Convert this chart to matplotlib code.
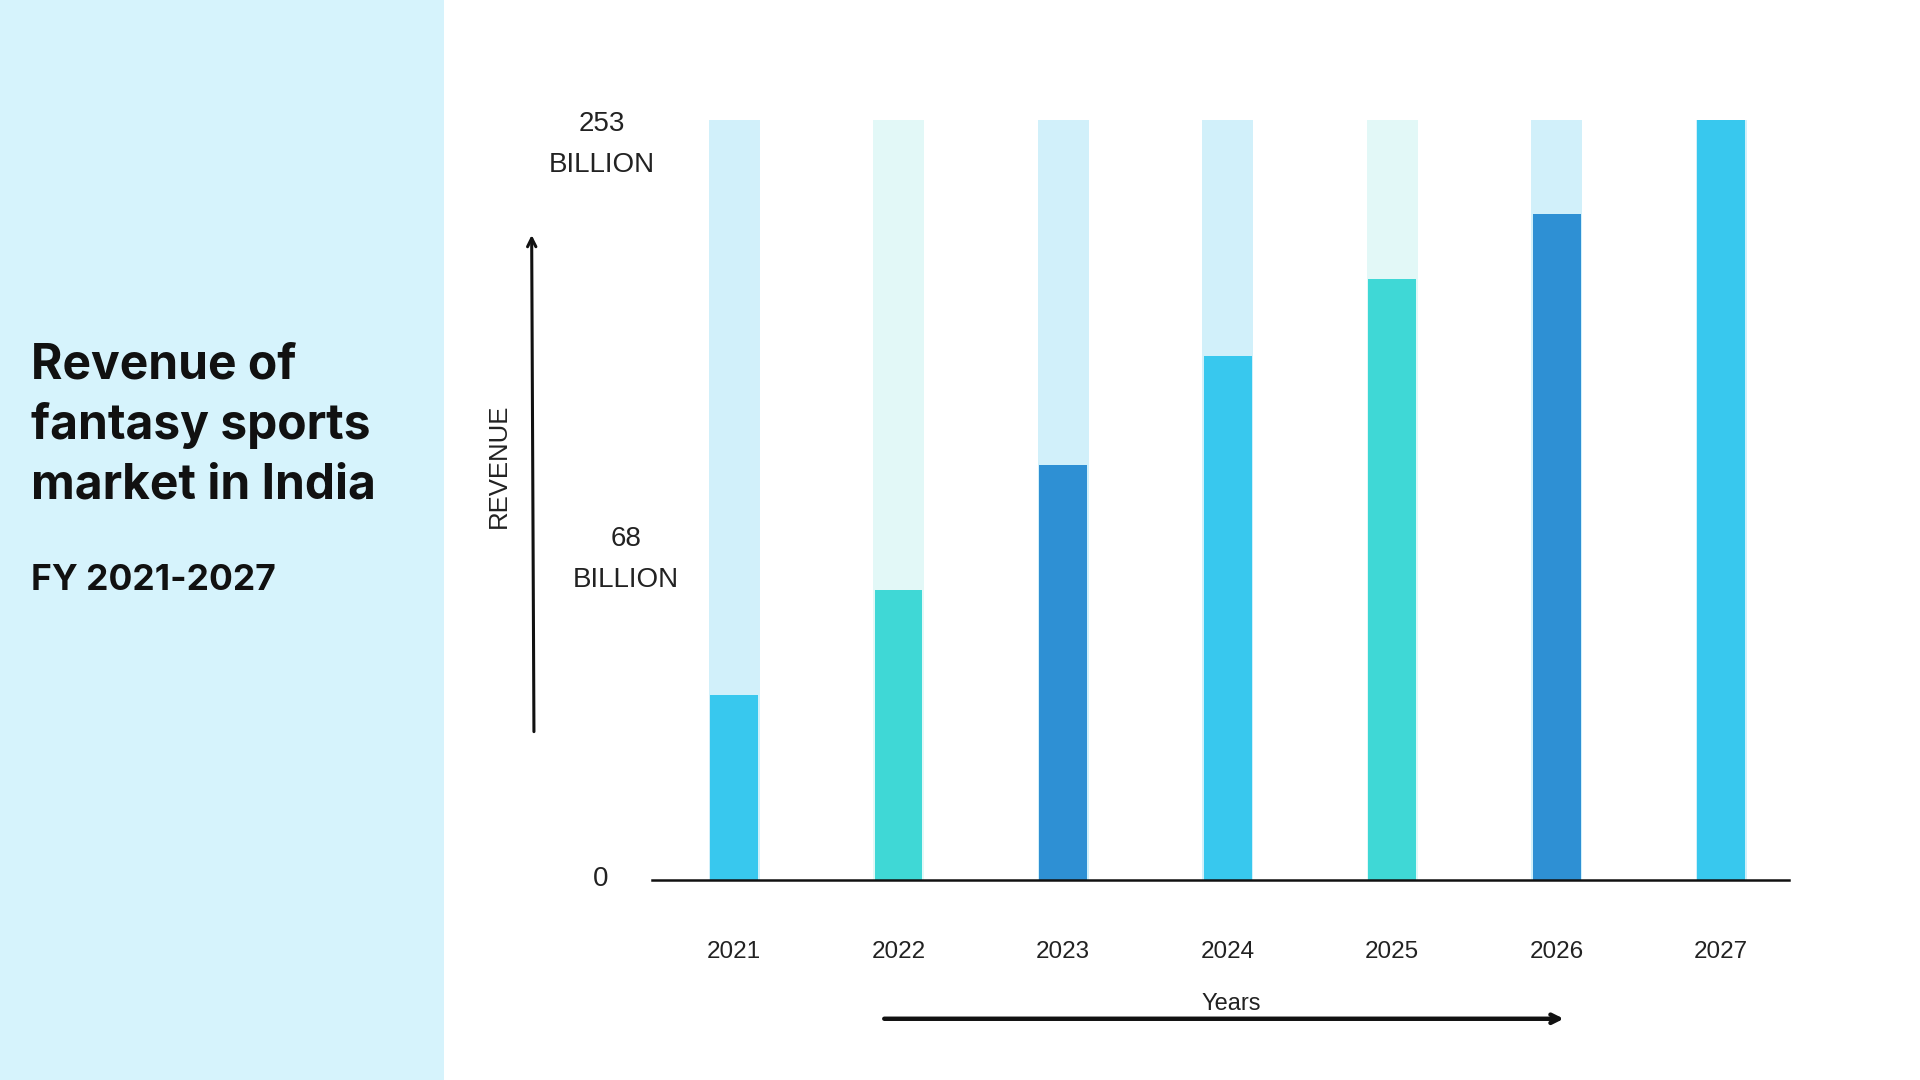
import matplotlib
matplotlib.use("Agg")
import matplotlib.pyplot as plt
from matplotlib.patches import Rectangle, FancyArrowPatch

# Data (billion INR)
years = ["2021", "2022", "2023", "2024", "2025", "2026", "2027"]
revenue = [61.5, 96.6, 138.1, 174.4, 200.0, 221.6, 253.0]
bar_colors = ["#38C8EE", "#3FD8D6", "#2E90D4", "#38C8EE", "#3FD8D6", "#2E90D4", "#38C8EE"]
track_colors = ["#D1F0FA", "#E2F8F7", "#D1F0FA", "#D1F0FA", "#E2F8F7", "#D1F0FA", "#D1F0FA"]

fig = plt.figure(figsize=(19.2, 10.8), dpi=100)
fig.patch.set_facecolor("white")

# left info panel
fig.patches.append(Rectangle((0, 0), 0.2315, 1, transform=fig.transFigure,
                             facecolor="#D6F3FC", edgecolor="none", zorder=0))

fig.text(0.016, 0.606, "Revenue of\nfantasy sports\nmarket in India",
         family="Inter", weight="bold", fontsize=34.5, color="#111111",
         ha="left", va="center", linespacing=1.36)
fig.text(0.016, 0.4626, "FY 2021-2027", family="Inter", weight="bold",
         fontsize=25.5, color="#111111", ha="left", va="center")

# chart
ax = fig.add_axes([0.3395, 0.185, 0.5921, 0.704])
x = range(len(years))
top = max(revenue)
ax.bar(x, [top] * len(years), width=0.31, color=track_colors, zorder=1)
ax.bar(x, revenue, width=0.29, color=bar_colors, zorder=2)

ax.set_xlim(-0.5, 6.41)
ax.set_ylim(0, top)
for s in ["top", "left", "right"]:
    ax.spines[s].set_visible(False)
ax.spines["bottom"].set_linewidth(1.8)
ax.spines["bottom"].set_color("#111111")
ax.spines["bottom"].set_zorder(3)
ax.set_yticks([])
ax.set_xticks(list(x))
ax.set_xticklabels(years, family="Liberation Sans", fontsize=17.5, color="#222222")
ax.tick_params(axis="x", length=0, pad=44)

# value labels on the left of the axis
lab = dict(family="Liberation Sans", fontsize=20, color="#222222",
           ha="center", va="center", linespacing=1.75)
fig.text(0.3133, 0.866, "253\nBILLION", **lab)
fig.text(0.3261, 0.482, "68\nBILLION", **lab)
fig.text(0.3127, 0.186, "0", **lab)

fig.text(0.2596, 0.569, "REVENUE", family="Liberation Sans", fontsize=18.5,
         color="#222222", rotation=90, ha="center", va="center")
fig.text(0.6413, 0.070, "Years", family="Liberation Sans", fontsize=17,
         color="#222222", ha="center", va="center")

# arrows
fig.add_artist(FancyArrowPatch(
    (0.2781, 0.320), (0.2769, 0.785), transform=fig.transFigure,
    arrowstyle="->,head_length=6,head_width=3", lw=2.2, color="#111111"))
fig.add_artist(FancyArrowPatch(
    (0.4591, 0.0567), (0.8159, 0.0567), transform=fig.transFigure,
    arrowstyle="->,head_length=6,head_width=3", lw=3.2, color="#111111"))

fig.savefig("out.png", dpi=100)
